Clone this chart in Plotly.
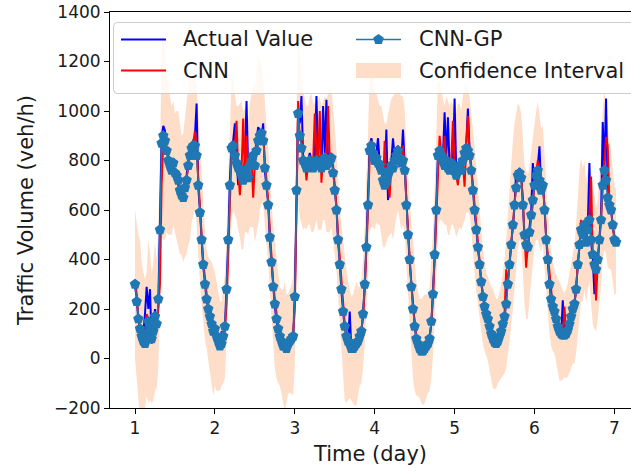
import math
import numpy as np
import plotly.graph_objects as go

# Half-hourly samples starting at day 1
STEP_DAYS = 1 / 48
START_DAY = 1.0

# CNN-GP predictive mean (veh/h)
cnn_gp = [
    # day 1
    300, 230, 160, 120, 90, 70, 60, 100, 150, 130,
    80, 110, 170, 140, 240, 520, 870, 900, 880, 840,
    800, 780, 760, 790, 750, 740, 720, 680, 660, 650,
    690, 720, 780, 820, 850, 860, 860, 820, 700, 590,
    480, 380, 300, 240, 200, 170, 140, 110,
    # day 2
    120, 90, 70, 50, 60, 90, 130, 280, 480, 700,
    850, 860, 820, 790, 770, 760, 740, 720, 760, 750,
    730, 780, 800, 820, 780, 840, 880, 900, 910, 880,
    770, 700, 620, 490, 390, 290, 220, 160, 120, 90,
    70, 50, 50, 40, 60, 70, 80, 90,
    # day 3
    250, 680, 990, 900, 850, 800, 790, 770, 780, 800,
    790, 770, 780, 800, 780, 790, 770, 800, 810, 780,
    790, 800, 810, 750, 680, 600, 480, 380, 280, 190,
    130, 90, 70, 60, 40, 40, 50, 60, 70, 90,
    110, 180, 300, 450, 620, 840, 860, 830,
    # day 4
    800, 810, 790, 780, 760, 720, 700, 710, 740, 760,
    780, 770, 800, 820, 840, 810, 790, 800, 760, 620,
    500, 400, 290, 200, 130, 80, 60, 40, 30, 30,
    40, 50, 60, 80, 150, 260, 420, 600, 820, 840,
    820, 800, 780, 800, 770, 760, 790, 780,
    # day 5
    760, 740, 770, 780, 760, 800, 830, 850, 840, 820,
    760, 680, 600, 520, 450, 380, 310, 250, 210, 180,
    160, 130, 100, 80, 65, 60, 70, 90, 110, 140,
    170, 220, 300, 380, 460, 540, 620, 690, 740, 750,
    730, 620, 500, 460, 450, 510, 580, 640,
    # day 6
    700, 740, 760, 720, 680, 700, 600, 480, 400, 300,
    240, 210, 190, 160, 130, 110, 100, 95, 95, 100,
    115, 140, 170, 200, 220, 280, 380, 460, 520, 500,
    540, 470, 520, 560, 480, 420, 380, 360, 400, 480,
    560, 700, 760, 720, 650, 620, 600, 540, 480, 470,
]

# Measured traffic volume (veh/h)
actual_value = [
    # day 1
    290, 250, 150, 130, 80, 100, 180, 290, 200, 280,
    60, 150, 200, 120, 220, 560, 900, 940, 920, 830,
    820, 760, 790, 810, 730, 760, 700, 670, 640, 680,
    710, 740, 800, 840, 870, 880, 900, 1030, 690, 600,
    470, 370, 310, 230, 210, 160, 150, 100,
    # day 2
    130, 80, 60, 40, 110, 80, 120, 290, 470, 720,
    870, 880, 950, 800, 700, 790, 760, 750, 800, 1040,
    760, 810, 770, 840, 800, 880, 935, 920, 890, 950,
    760, 690, 630, 480, 380, 300, 210, 150, 110, 80,
    70, 40, 60, 30, 70, 60, 90, 80,
    # day 3
    260, 700, 1000, 950, 1060, 820, 810, 780, 800, 830,
    800, 790, 820, 1060, 800, 820, 760, 1020, 830, 1045,
    800, 820, 830, 760, 670, 610, 470, 390, 270, 200,
    120, 100, 60, 190, 30, 50, 40, 70, 60, 100,
    100, 190, 290, 460, 640, 860, 890, 840,
    # day 4
    810, 830, 890, 790, 770, 730, 720, 925, 640, 770,
    800, 890, 810, 840, 860, 830, 800, 925, 770, 610,
    510, 390, 300, 190, 140, 70, 70, 30, 40, 20,
    50, 40, 70, 90, 140, 270, 410, 620, 830, 860,
    830, 820, 995, 810, 975, 770, 800, 790,
    # day 5
    1050, 750, 760, 800, 770, 820, 840, 870, 1010, 840,
    770, 690, 590, 530, 440, 390, 300, 260, 200, 190,
    150, 140, 90, 90, 50, 70, 60, 100, 100, 150,
    160, 240, 290, 400, 450, 560, 610, 760, 730, 770,
    740, 640, 480, 470, 430, 530, 590, 790,
    # day 6
    710, 760, 780, 857, 690, 720, 590, 490, 390, 310,
    230, 220, 180, 170, 120, 120, 90, 235, 90, 110,
    110, 150, 160, 210, 210, 290, 370, 470, 530, 510,
    550, 460, 530, 790, 470, 410, 260, 370, 390, 490,
    570, 955, 770, 1050, 660, 630, 610, 530, 490, 460,
]

# Plain CNN prediction (veh/h)
cnn = [
    # day 1
    320, 260, 170, 110, 100, 80, 70, 180, 160, 140,
    90, 120, 190, 150, 200, 300, 700, 880, 870, 850,
    790, 770, 770, 780, 760, 730, 710, 690, 650, 640,
    700, 730, 770, 830, 840, 870, 920, 850, 720, 580,
    500, 390, 320, 250, 200, 180, 140, 120,
    # day 2
    130, 100, 80, 60, 70, 80, 120, 220, 420, 650,
    830, 870, 860, 960, 760, 660, 760, 970, 740, 900,
    740, 770, 810, 650, 790, 830, 870, 910, 900, 900,
    800, 720, 640, 520, 400, 310, 240, 170, 130, 100,
    80, 60, 50, 50, 50, 80, 70, 100,
    # day 3
    200, 600, 1040, 880, 900, 790, 800, 720, 790, 810,
    780, 790, 990, 830, 790, 1000, 710, 820, 800, 790,
    1020, 810, 800, 780, 700, 620, 500, 400, 300, 200,
    140, 90, 80, 70, 50, 40, 60, 50, 80, 90,
    120, 160, 280, 420, 600, 820, 880, 850,
    # day 4
    790, 800, 800, 790, 770, 700, 880, 720, 730, 650,
    790, 780, 800, 830, 830, 820, 790, 860, 780, 640,
    510, 410, 300, 210, 140, 90, 60, 50, 30, 40,
    40, 60, 60, 80, 140, 240, 400, 580, 800, 900,
    830, 810, 900, 790, 780, 770, 800, 960,
    # day 5
    780, 740, 700, 790, 770, 790, 694, 860, 980, 830,
    780, 700, 620, 530, 460, 390, 320, 260, 220, 180,
    170, 130, 110, 80, 70, 60, 80, 90, 120, 140,
    180, 360, 310, 370, 470, 530, 630, 700, 750, 760,
    740, 640, 510, 367, 460, 500, 570, 620,
    # day 6
    700, 750, 800, 720, 690, 700, 620, 490, 420, 320,
    250, 210, 200, 160, 140, 110, 110, 100, 210, 100,
    120, 140, 180, 200, 230, 270, 390, 450, 560, 500,
    540, 480, 520, 580, 735, 430, 390, 235, 390, 470,
    560, 690, 780, 895, 860, 630, 600, 550, 480, 480,
]

# Half-width of the CNN-GP confidence interval (veh/h)
ci_half_width = [
    # day 1
    300, 320, 340, 360, 300, 280, 260, 250, 330, 300,
    260, 280, 300, 260, 280, 300, 380, 420, 400, 330,
    300, 280, 260, 250, 240, 260, 280, 260, 240, 260,
    280, 300, 320, 340, 300, 280, 260, 280, 300, 280,
    260, 240, 220, 200, 210, 230, 250, 260,
    # day 2
    230, 220, 200, 180, 170, 190, 210, 230, 250, 270,
    280, 260, 240, 230, 250, 270, 300, 280, 250, 240,
    230, 250, 270, 290, 310, 330, 340, 300, 280, 260,
    250, 240, 230, 220, 240, 250, 260, 240, 220, 200,
    210, 230, 260, 220, 200, 210, 220, 240,
    # day 3
    280, 320, 350, 330, 300, 280, 260, 250, 240, 260,
    280, 260, 250, 240, 260, 270, 250, 240, 250, 270,
    280, 290, 280, 270, 250, 240, 230, 240, 260, 280,
    300, 270, 240, 220, 210, 220, 240, 250, 220, 200,
    210, 220, 240, 260, 290, 320, 330, 300,
    # day 4
    280, 260, 250, 240, 260, 270, 250, 240, 250, 260,
    270, 290, 270, 250, 240, 260, 270, 260, 250, 240,
    240, 250, 260, 280, 260, 230, 210, 200, 210, 220,
    220, 210, 200, 210, 230, 250, 270, 290, 300, 280,
    260, 250, 240, 260, 270, 260, 250, 240,
    # day 5
    240, 250, 260, 250, 240, 260, 270, 260, 250, 240,
    240, 250, 260, 250, 230, 220, 200, 190, 180, 170,
    170, 180, 190, 200, 190, 180, 170, 180, 190, 210,
    230, 260, 290, 320, 330, 340, 330, 300, 290, 270,
    260, 270, 280, 300, 290, 270, 260, 250,
    # day 6
    250, 260, 280, 270, 250, 240, 230, 220, 210, 200,
    190, 180, 170, 180, 190, 200, 190, 180, 170, 180,
    190, 200, 210, 220, 240, 260, 290, 300, 290, 270,
    260, 250, 240, 250, 270, 280, 260, 250, 240, 250,
    270, 300, 320, 300, 280, 260, 240, 230, 220, 210,
]

X_TICKS = [1, 2, 3, 4, 5, 6, 7]
Y_TICKS = [-200, 0, 200, 400, 600, 800, 1000, 1200, 1400]

n = len(cnn_gp)
assert len(actual_value) == n and len(cnn) == n and len(ci_half_width) == n, (
    len(cnn_gp), len(actual_value), len(cnn), len(ci_half_width))

t = START_DAY + np.arange(n) * STEP_DAYS
gp = np.array(cnn_gp, dtype=float)
half = np.array(ci_half_width, dtype=float)
lower = gp - half
upper = gp + half

FONT = "DejaVu Sans"
TEXT = "#1a1a1a"
BLUE = "#0000ff"
RED = "#ff0000"
GP_COLOR = "#1f77b4"
BAND = "rgb(254,222,200)"

# Figure / plot-area geometry (pixels)
W, H = 631, 474
M_L, M_R, M_T, M_B = 110, 0, 12, 66
PW, PH = W - M_L - M_R, H - M_T - M_B


def pxx(px):
    """Horizontal pixel -> paper fraction."""
    return (px - M_L) / PW


def pxy(py):
    """Vertical pixel (from top) -> paper fraction."""
    return (H - M_B - py) / PH


fig = go.Figure()

# Confidence band
fig.add_trace(go.Scatter(
    x=t, y=lower, mode="lines", line=dict(width=0, color="rgba(0,0,0,0)"),
    showlegend=False, hoverinfo="skip"))
fig.add_trace(go.Scatter(
    x=t, y=upper, mode="lines", line=dict(width=0, color="rgba(0,0,0,0)"),
    fill="tonexty", fillcolor=BAND, name="Confidence Interval", showlegend=False))

fig.add_trace(go.Scatter(
    x=t, y=actual_value, mode="lines", line=dict(color=BLUE, width=2),
    name="Actual Value", showlegend=False))
fig.add_trace(go.Scatter(
    x=t, y=cnn, mode="lines", line=dict(color=RED, width=2),
    name="CNN", showlegend=False))
fig.add_trace(go.Scatter(
    x=t, y=gp, mode="lines+markers", line=dict(color=GP_COLOR, width=1.5),
    marker=dict(symbol="pentagon", size=11, color=GP_COLOR, line=dict(width=0)),
    name="CNN-GP", showlegend=False))

# ---- legend (two columns, drawn in the upper part of the axes) ----
shapes = []
annotations = []

# frame with rounded left corners; the right side runs off the figure
bx0, bx1, by0, by1, r = 113.5, 660, 22.5, 93.5, 4
frame = (
    f"M {pxx(bx0 + r)} {pxy(by0)} L {pxx(bx1)} {pxy(by0)} "
    f"L {pxx(bx1)} {pxy(by1)} L {pxx(bx0 + r)} {pxy(by1)} "
    f"Q {pxx(bx0)} {pxy(by1)} {pxx(bx0)} {pxy(by1 - r)} "
    f"L {pxx(bx0)} {pxy(by0 + r)} "
    f"Q {pxx(bx0)} {pxy(by0)} {pxx(bx0 + r)} {pxy(by0)} Z"
)
shapes.append(dict(type="path", xref="paper", yref="paper", path=frame,
                   fillcolor="rgba(255,255,255,0.8)",
                   line=dict(color="#cccccc", width=1), layer="above"))

ROW_Y = [39.5, 70.5]
SAMPLE_X = [121, 356]
SAMPLE_LEN = 45
LABEL_X = [181, 417]

legend_entries = [
    ("Actual Value", "line", BLUE, 0, 0),
    ("CNN", "line", RED, 0, 1),
    ("CNN-GP", "marker", GP_COLOR, 1, 0),
    ("Confidence Interval", "patch", BAND, 1, 1),
]

for label, kind, color, col, row in legend_entries:
    x0 = SAMPLE_X[col]
    x1 = x0 + SAMPLE_LEN
    yc = ROW_Y[row]
    if kind == "patch":
        shapes.append(dict(type="rect", xref="paper", yref="paper",
                           x0=pxx(x0), x1=pxx(x1), y0=pxy(yc - 7.5), y1=pxy(yc + 7.5),
                           fillcolor=color, line=dict(width=0), layer="above"))
    else:
        shapes.append(dict(type="line", xref="paper", yref="paper",
                           x0=pxx(x0), x1=pxx(x1), y0=pxy(yc), y1=pxy(yc),
                           line=dict(color=color, width=2 if kind == "line" else 1.5),
                           layer="above"))
        if kind == "marker":
            cx, rad = (x0 + x1) / 2, 5.6
            pts = []
            for k in range(5):
                a = math.radians(-90 + 72 * k)
                pts.append((cx + rad * math.cos(a), yc + rad * math.sin(a)))
            path = "M " + " L ".join(f"{pxx(px)} {pxy(py)}" for px, py in pts) + " Z"
            shapes.append(dict(type="path", xref="paper", yref="paper", path=path,
                               fillcolor=color, line=dict(width=0), layer="above"))
    annotations.append(dict(text=label, xref="paper", yref="paper",
                            x=pxx(LABEL_X[col]), y=pxy(yc), xanchor="left",
                            yanchor="middle", showarrow=False,
                            font=dict(family=FONT, size=21, color=TEXT)))

fig.update_layout(
    width=W, height=H,
    margin=dict(l=M_L, r=M_R, t=M_T, b=M_B),
    paper_bgcolor="white", plot_bgcolor="white",
    font=dict(family=FONT, size=17, color=TEXT),
    showlegend=False,
    shapes=shapes,
    annotations=annotations,
    xaxis=dict(
        range=[0.687, 7.208], tickmode="array", tickvals=X_TICKS,
        ticks="outside", ticklen=5, tickwidth=1, tickcolor="black",
        showline=True, linecolor="black", linewidth=1, mirror=True,
        showgrid=False, zeroline=False,
        tickfont=dict(family=FONT, size=17, color=TEXT),
        title=dict(text="Time (day)", font=dict(family=FONT, size=21, color=TEXT), standoff=8),
    ),
    yaxis=dict(
        range=[-200, 1400], tickmode="array", tickvals=Y_TICKS,
        ticks="outside", ticklen=5, tickwidth=1, tickcolor="black",
        showline=True, linecolor="black", linewidth=1, mirror=False,
        showgrid=False, zeroline=False,
        tickfont=dict(family=FONT, size=17, color=TEXT),
        title=dict(text="Traffic Volume (veh/h)", font=dict(family=FONT, size=21, color=TEXT), standoff=14),
    ),
)

fig.write_html("out.html")
